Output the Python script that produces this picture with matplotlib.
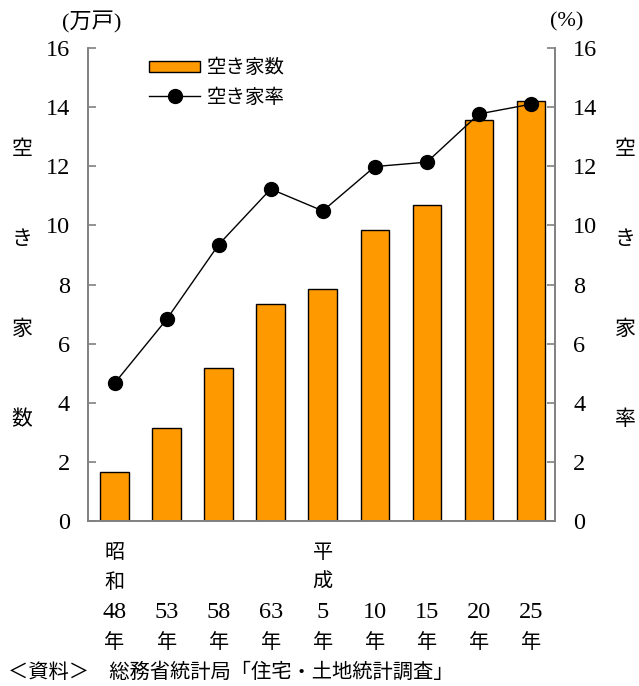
import matplotlib
matplotlib.use("Agg")
import matplotlib.pyplot as plt
from matplotlib.patches import Patch
from matplotlib.lines import Line2D
from matplotlib.transforms import blended_transform_factory

# Survey years (era name shown only where the era begins)
eras = ["昭和", "", "", "", "平成", "", "", "", ""]
years = ["48", "53", "58", "63", "5", "10", "15", "20", "25"]
# Number of vacant houses (10,000 units) and vacancy rate (%)
vacant_houses = [1.65, 3.16, 5.18, 7.33, 7.84, 9.83, 10.68, 13.57, 14.22]
vacancy_rate = [4.66, 6.82, 9.35, 11.23, 10.49, 11.99, 12.14, 13.77, 14.10]
yticks = [0, 2, 4, 6, 8, 10, 12, 14, 16]

FONT = ["Liberation Serif", "Noto Sans CJK JP", "DejaVu Sans"]
plt.rcParams["font.family"] = FONT

BAR = "#FF9900"
GREY = "#808080"

fig = plt.figure(figsize=(6.39, 6.86), dpi=100)
ax = fig.add_axes([0.1377, 0.2405, 0.7308, 0.6895])
ax2 = ax.twinx()

x = list(range(len(years)))
ax.bar(x, vacant_houses, width=0.55, color=BAR, edgecolor="black", linewidth=1.0, zorder=2)
ax2.plot(x, vacancy_rate, color="black", linewidth=1.0, marker="o",
         markersize=10, markerfacecolor="black", zorder=3)

for a in (ax, ax2):
    a.set_ylim(0, 16)
    a.set_xlim(-0.51, 8.46)
    a.set_yticks(yticks)
    a.spines["top"].set_visible(False)
    for s in ("left", "right", "bottom"):
        a.spines[s].set_color(GREY)
        a.spines[s].set_linewidth(1.2)
    a.tick_params(axis="y", direction="in", length=6, width=1.2, color=GREY,
                  labelsize=17.5, pad=13)
    a.tick_params(axis="x", length=0, labelbottom=False)
ax.set_yticklabels([str(t) for t in yticks])
ax2.set_yticklabels([str(t) for t in yticks])

# Axis units
fig.text(92 / 639, 1 - 22 / 686, "(万戸)", ha="center", va="center", fontsize=16)
fig.text(567 / 639, 1 - 22 / 686, "(%)", ha="center", va="center", fontsize=16)

# Vertical axis titles, one character per row
for i, ch in enumerate("空き家数"):
    fig.text(22 / 639, 1 - (150 + 90 * i) / 686, ch, ha="center", va="center", fontsize=15)
for i, ch in enumerate("空き家率"):
    fig.text(625 / 639, 1 - (150 + 90 * i) / 686, ch, ha="center", va="center", fontsize=15)

# Category labels written top to bottom under each bar
tr = blended_transform_factory(ax.transData, fig.transFigure)
for xi, era, yr in zip(x, eras, years):
    rows = list(era) + [yr, "年"] if era else [yr, "年"]
    start = 4 - len(rows)
    for j, txt in enumerate(rows):
        ypix = 553 + 30 * (start + j)
        size = 17.5 if txt.isdigit() else 14.5
        ax.text(xi, 1 - ypix / 686, txt, transform=tr, ha="center", va="center",
                fontsize=size)

# Legend
handles = [Patch(facecolor=BAR, edgecolor="black", linewidth=1.0),
           Line2D([0], [0], color="black", linewidth=1.0, marker="o",
                  markersize=10, markerfacecolor="black")]
ax.legend(handles, ["空き家数", "空き家率"], loc="upper left",
          bbox_to_anchor=(0.115, 0.993), frameon=False, fontsize=14,
          handlelength=2.6, handleheight=0.45, handletextpad=0.35,
          labelspacing=0.55, borderaxespad=0)

fig.text(8 / 639, 1 - 673 / 686, "＜資料＞　総務省統計局「住宅・土地統計調査」",
         ha="left", va="center", fontsize=14.6)

fig.savefig("out.png", dpi=100)
